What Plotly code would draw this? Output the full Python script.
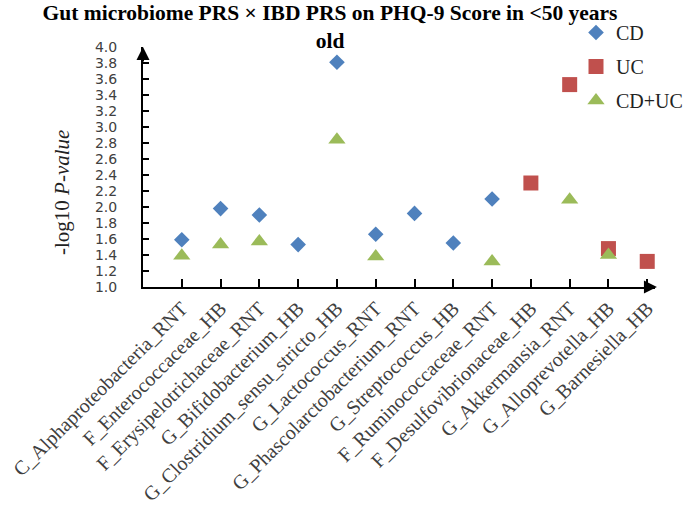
import plotly.graph_objects as go

categories = ["C_Alphaproteobacteria_RNT", "F_Enterococcaceae_HB", "F_Erysipelotrichaceae_RNT",
              "G_Bifidobacterium_HB", "G_Clostridium_sensu_stricto_HB", "G_Lactococcus_RNT",
              "G_Phascolarctobacterium_RNT", "G_Streptococcus_HB", "F_Ruminococcaceae_RNT",
              "F_Desulfovibrionaceae_HB", "G_Akkermansia_RNT", "G_Alloprevotella_HB",
              "G_Barnesiella_HB"]

cd_values = [1.59, 1.98, 1.90, 1.53, 3.81, 1.66, 1.92, 1.55, 2.10, None, None, None, None]
uc_values = [None, None, None, None, None, None, None, None, None, 2.30, 3.53, 1.48, 1.32]
cduc_values = [1.39, 1.53, 1.57, None, 2.84, 1.38, None, None, 1.32, None, 2.09, 1.40, None]

y_ticks = [1.0, 1.2, 1.4, 1.6, 1.8, 2.0, 2.2, 2.4, 2.6, 2.8, 3.0, 3.2, 3.4, 3.6, 3.8, 4.0]

fig = go.Figure()
fig.add_trace(go.Scatter(x=categories, y=cd_values, mode="markers", name="CD", legendgroup="a",
                         marker=dict(symbol="diamond", size=12, color="#4F81BD")))
fig.add_trace(go.Scatter(x=categories, y=uc_values, mode="markers", name="UC", legendgroup="b",
                         marker=dict(symbol="square", size=15, color="#C0504D")))
fig.add_trace(go.Scatter(x=categories, y=cduc_values, mode="markers", name="CD+UC", legendgroup="c",
                         marker=dict(symbol="triangle-up", size=15, color="#9BBB59")))

serif = "Liberation Serif, Times New Roman, serif"

fig.update_layout(
    width=690, height=515,
    margin=dict(l=143, r=35, t=47, b=228, autoexpand=False),
    paper_bgcolor="white", plot_bgcolor="white",
    title=dict(text="<b>Gut microbiome PRS × IBD PRS on PHQ-9 Score in <50 years<br>old</b>",
               x=330 / 690, xanchor="center", xref="container",
               y=1 - 20 / 515, yanchor="top", yref="container",
               font=dict(family=serif, size=21.5, color="black")),
    showlegend=True,
    legend=dict(xref="container", yref="container", x=576 / 690, xanchor="left",
                y=1 - 13 / 515, yanchor="top",
                font=dict(family=serif, size=20, color="#222222"),
                bgcolor="rgba(0,0,0,0)", itemwidth=30, tracegroupgap=5),
    xaxis=dict(type="category", range=[-1, 12.2], showline=True, linecolor="black", linewidth=2,
               ticks="inside", ticklen=8, tickwidth=1.5, tickcolor="black",
               tickangle=-45, showgrid=False, zeroline=False, automargin=False,
               tickfont=dict(family=serif, size=20, color="#404040"), ticklabelstandoff=0),
    yaxis=dict(range=[1.0, 4.0], showline=True, linecolor="black", linewidth=2,
               tickvals=y_ticks, ticktext=[f"{v:.1f}" for v in y_ticks],
               ticks="inside", ticklen=6, tickwidth=1.5, tickcolor="black",
               showgrid=False, zeroline=False, automargin=False,
               tickfont=dict(family="DejaVu Sans, Verdana, sans-serif", size=14, color="#404040"),
               ticklabelstandoff=21),
)

# y-axis title, placed where the reference puts it
fig.add_annotation(text="-log10 <i>P-value</i>", xref="paper", yref="paper",
                   x=(62 - 143) / 512, y=(287 - 193) / 240, xanchor="center", yanchor="middle",
                   textangle=-90, showarrow=False,
                   font=dict(family=serif, size=21, color="#222222"))

# axis arrowheads
fig.add_annotation(x=12.25, y=1.0, ax=11.9, ay=1.0, xref="x", yref="y", axref="x", ayref="y",
                   showarrow=True, arrowhead=2, arrowsize=1.3, arrowwidth=2, arrowcolor="black", text="")
fig.add_annotation(x=-1, y=4.0, ax=-1, ay=3.8, xref="x", yref="y", axref="x", ayref="y",
                   showarrow=True, arrowhead=2, arrowsize=1.3, arrowwidth=2, arrowcolor="black", text="")

fig.write_html("out.html", config={"displayModeBar": False},
               post_script="document.body.style.margin='0';")
